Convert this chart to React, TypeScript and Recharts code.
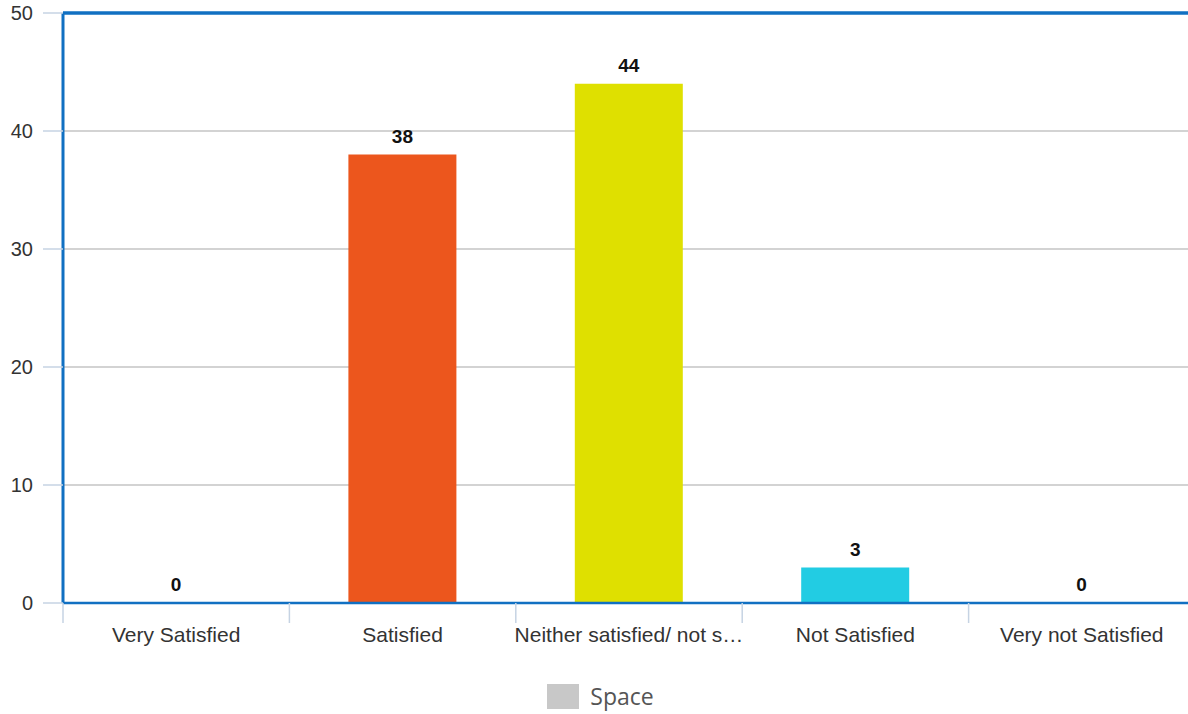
import { BarChart, Bar, XAxis, YAxis, CartesianGrid, Cell, LabelList, Legend, ReferenceLine } from 'recharts';

const categories = ['Very Satisfied', 'Satisfied', 'Neither satisfied/ not satisfied', 'Not Satisfied', 'Very not Satisfied'];
const counts = [0, 38, 44, 3, 0];
const barColors = ['#c8c8c8', '#ec561d', '#dfe000', '#22cce3', '#c8c8c8'];
const yTicks = [0, 10, 20, 30, 40, 50];
const seriesName = 'Space';

const BLUE = '#1170c2';
const TICK_GREY = '#c6d3e3';
const W = 1195;
const H = 714;
const Y_W = 63;

const data = categories.map((c, i) => ({ name: c, value: counts[i] }));

const shorten = (s: string) => (s.length > 24 ? s.slice(0, 24) + '…' : s);

function CatTick(props: any) {
  const { x, y, payload } = props;
  const half = payload?.offset ?? (W - Y_W) / categories.length / 2;
  const axisY = y - 24;
  return (
    <g>
      <line x1={x - half} x2={x - half} y1={axisY} y2={axisY + 20} stroke={TICK_GREY} strokeWidth={1.5} />
      <text x={x} y={y} dy="0.71em" textAnchor="middle" fontSize={21} fill="#333" fontFamily="'Liberation Sans', Arial, sans-serif">
        {shorten(payload.value)}
      </text>
    </g>
  );
}

function LegendBox() {
  return (
    <div style={{ height: 51, display: 'flex', justifyContent: 'center', alignItems: 'flex-start', paddingLeft: 6 }}>
      <div style={{ display: 'flex', alignItems: 'center', marginTop: 17 }}>
        <span style={{ width: 32, height: 25, background: '#c8c8c8', display: 'inline-block', marginRight: 11 }} />
        <span style={{ fontSize: 23, color: '#555', fontFamily: "'Open Sans', 'Noto Sans', sans-serif" }}>{seriesName}</span>
      </div>
    </div>
  );
}

// zero-value bars still need a (practically invisible) rectangle so their "0" label is drawn
const minSize = (v: any) => (Number(v) === 0 ? 0.01 : 0);

export default function App() {
  return (
    <div style={{ position: 'absolute', left: 0, top: 0, width: 1188, height: H, overflow: 'hidden', background: '#fff' }}>
      <BarChart width={W} height={H} data={data} margin={{ top: 13, right: 0, left: 0, bottom: 0 }}>
        <CartesianGrid vertical={false} stroke="#c4c4c4" strokeWidth={1.5} />
        <YAxis
          width={Y_W}
          domain={[0, 50]}
          ticks={yTicks}
          interval={0}
          tickSize={20}
          tickMargin={10}
          axisLine={{ stroke: BLUE, strokeWidth: 3 }}
          tickLine={{ stroke: TICK_GREY, strokeWidth: 1.5 }}
          tick={{ fontSize: 20, fill: '#333', fontFamily: "'Liberation Sans', Arial, sans-serif" }}
        />
        <XAxis
          dataKey="name"
          height={60}
          interval={0}
          tickSize={20}
          tickMargin={4}
          tickLine={false}
          axisLine={{ stroke: BLUE, strokeWidth: 2.5 }}
          tick={<CatTick />}
        />
        <ReferenceLine y={50} stroke={BLUE} strokeWidth={3.5} />
        <Legend verticalAlign="bottom" content={<LegendBox />} />
        <Bar dataKey="value" name={seriesName} fill="#c8c8c8" barSize={108} minPointSize={minSize} isAnimationActive={false}>
          {data.map((d, i) => (
            <Cell key={d.name} fill={barColors[i]} />
          ))}
          <LabelList
            dataKey="value"
            position="top"
            offset={12}
            fontSize={19}
            fontWeight="bold"
            fill="#111"
            fontFamily="'Liberation Sans', Arial, sans-serif"
          />
        </Bar>
      </BarChart>
    </div>
  );
}
